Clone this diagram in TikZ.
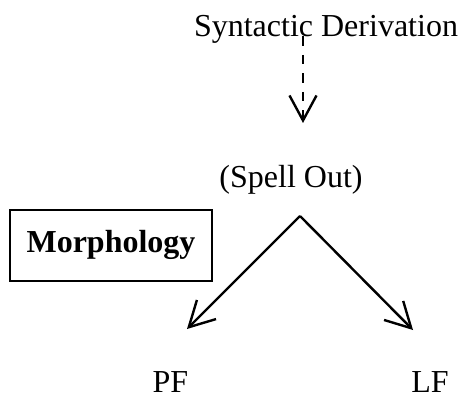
\documentclass[tikz,border=0pt]{standalone}
\usepackage{fontspec}
\setmainfont{Liberation Serif}
\usetikzlibrary{arrows.meta}
\begin{document}
\begin{tikzpicture}[x=1pt,y=1pt,
  lbl/.style={inner sep=0pt,anchor=base,font=\fontsize{32}{36}\selectfont},
  conn/.style={line width=2.4pt,-{Straight Barb[length=25pt,width=27pt,line width=2.4pt]}},
  boxed/.style={draw,line width=1.5pt,minimum width=202pt,minimum height=71pt,inner sep=0pt,
    text height=21pt,text depth=8pt,font=\fontsize{32}{36}\selectfont\bfseries}]
\useasboundingbox (0,0) rectangle (461,-396);
\node[lbl] (sd) at (326,-37) {Syntactic Derivation};
\node[lbl] (so) at (291,-187) {(Spell Out)};
\node[boxed] (morph) at (111,-245.5) {Morphology};
\node[lbl] (pf) at (170.5,-392) {PF};
\node[lbl] (lf) at (430,-392) {LF};
\coordinate (sdout) at (303,-36.5);
\coordinate (soin) at (303,-123);
\coordinate (apex) at (300,-216);
\coordinate (pfin) at (187,-329);
\coordinate (lfin) at (413,-330);
\draw[conn,dash pattern=on 9.5pt off 9pt] (sdout) -- (soin);
\draw[conn] (apex) -- (pfin);
\draw[conn] (apex) -- (lfin);
\end{tikzpicture}
\end{document}
